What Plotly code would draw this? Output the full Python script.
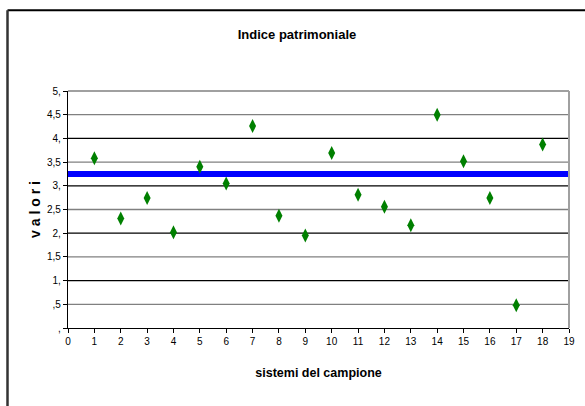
import plotly.graph_objects as go

# Data
sistemi = list(range(1, 19))
valori = [3.58, 2.31, 2.74, 2.02, 3.40, 3.05, 4.26, 2.37, 1.95, 3.69,
          2.81, 2.56, 2.17, 4.50, 3.52, 2.74, 0.48, 3.87]
media_x = [0, 19]
media_y = [3.25, 3.25]

y_tickvals = [0, 0.5, 1, 1.5, 2, 2.5, 3, 3.5, 4, 4.5, 5]
y_ticktext = [",", ",5", "1,", "1,5", "2,", "2,5", "3,", "3,5", "4,", "4,5", "5,"]
x_tickvals = list(range(0, 20))

W, H = 585, 406
L, R, T, B = 68, 569, 90.5, 328

def px(x):
    return (x - L) / (R - L)

def py(y):
    return (B - y) / (B - T)

font_main = "Liberation Sans, Arial, sans-serif"

fig = go.Figure()

fig.add_trace(go.Scatter(
    x=media_x, y=media_y, mode="lines",
    line=dict(color="#0000FF", width=6),
    hoverinfo="skip", showlegend=False, cliponaxis=False))

fig.add_trace(go.Scatter(
    x=sistemi, y=valori, mode="markers",
    marker=dict(symbol="diamond-tall", size=10, color="#008000",
                line=dict(width=0)),
    showlegend=False, cliponaxis=False))

shapes = []
for v in y_tickvals[1:]:
    shapes.append(dict(type="line", xref="x", yref="y", x0=0, x1=19, y0=v, y1=v,
                       line=dict(color="#000000" if float(v).is_integer() else "#808080",
                                 width=1.3),
                       layer="below"))
shapes.append(dict(type="line", xref="paper", yref="paper", x0=0, x1=1, y0=1, y1=1,
                   line=dict(color="#A0A0A0", width=2)))
shapes.append(dict(type="line", xref="paper", yref="paper", x0=1, x1=1, y0=0, y1=1,
                   line=dict(color="#A0A0A0", width=2)))
shapes.append(dict(type="line", xref="paper", yref="paper",
                   x0=px(7.5), x1=px(590), y0=py(9.5), y1=py(9.5),
                   line=dict(color="#000000", width=2)))
shapes.append(dict(type="line", xref="paper", yref="paper",
                   x0=px(7.5), x1=px(7.5), y0=py(9.5), y1=py(410),
                   line=dict(color="#333333", width=2.5)))

fig.update_layout(
    width=W, height=H,
    margin=dict(l=L, r=W - R, t=T, b=H - B, autoexpand=False),
    paper_bgcolor="white", plot_bgcolor="white",
    shapes=shapes,
    title=dict(text="<b>Indice patrimoniale</b>", x=297 / W, xanchor="center",
               y=1 - 34 / H, yanchor="middle",
               font=dict(family=font_main, size=13, color="black")),
    xaxis=dict(range=[0, 19], tickvals=x_tickvals, ticks="outside", ticklen=4,
               tickcolor="black", showgrid=False, zeroline=False,
               showline=True, linecolor="black", linewidth=1.3,
               tickfont=dict(family=font_main, size=10, color="black"),
               title=dict(text="<b>sistemi del campione</b>", standoff=22,
                          font=dict(family=font_main, size=12.5, color="black"))),
    yaxis=dict(range=[0, 5], tickvals=y_tickvals, ticktext=y_ticktext,
               ticks="outside", ticklen=4, tickcolor="black",
               showgrid=False, zeroline=False,
               showline=True, linecolor="black", linewidth=1.3,
               tickfont=dict(family=font_main, size=10, color="black"),
               title=dict(text="<b>v a l o r i</b>", standoff=3,
                          font=dict(family=font_main, size=14, color="black"))),
)

fig.write_html("out.html", config={"displayModeBar": False},
               post_script="document.body.style.margin='0';document.body.style.overflow='hidden';")
